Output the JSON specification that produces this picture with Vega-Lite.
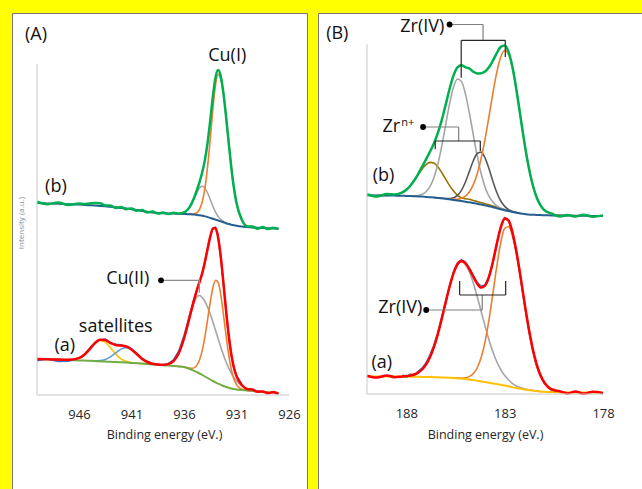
{
  "$schema": "https://vega.github.io/schema/vega-lite/v6.json",
  "background": "#FFFF00",
  "padding": {"left": 11, "top": 12, "right": 0, "bottom": 0},
  "spacing": 9,
  "config": {"font": "Open Sans"},
  "resolve": {"scale": {"color": "independent"}},
  "datasets": {
    "A": [
      {"x":950,"abg":36,"af":36,"ar":34.5,"bbg":192,"bf":193.2},
      {"x":949,"abg":35.7,"af":35.7,"ar":36.2,"bbg":191.6,"bf":190.8},
      {"x":948,"abg":35.4,"af":35.5,"ar":33.7,"aye":35.5,"bbg":191.2,"bf":192.4},
      {"x":947,"abg":35,"af":35.2,"ar":34,"aye":35.2,"bbg":190.8,"bf":190.1},
      {"x":946,"abg":34.6,"af":36.9,"ar":37.2,"aye":36.9,"bbg":190.4,"bf":191.5},
      {"x":945.5,"abg":34.4,"af":40.2,"ar":39.6,"aye":40.2,"bbg":190.1,"bf":191},
      {"x":945,"abg":34.2,"af":45.7,"ar":46.5,"aye":45.7,"alb":34.2,"bbg":189.8,"bf":191.6},
      {"x":944.5,"abg":34,"af":51.7,"ar":52.2,"aye":51.5,"alb":34.2,"bbg":189.5,"bf":192},
      {"x":944,"abg":33.7,"af":55.3,"ar":55,"aye":54.6,"alb":34.4,"bbg":189.1,"bf":191.8},
      {"x":943.5,"abg":33.5,"af":54.9,"ar":55.8,"aye":52.9,"alb":35.5,"bbg":188.7,"bf":189.6},
      {"x":943,"abg":33.2,"af":52.1,"ar":51.6,"aye":47.2,"alb":38.1,"bbg":188.2,"bf":189.4},
      {"x":942.5,"abg":33,"af":50,"ar":50.6,"aye":40.9,"alb":42.1,"bbg":187.7,"bf":186.9},
      {"x":942,"abg":32.7,"af":49.4,"ar":50.2,"aye":36.2,"alb":45.9,"bbg":187.1,"bf":188},
      {"x":941.5,"abg":32.4,"af":48.6,"ar":48.2,"aye":33.6,"alb":47.4,"bbg":186.4,"bf":185.8},
      {"x":941,"abg":32.1,"af":45.6,"ar":46.1,"aye":32.4,"alb":45.3,"bbg":185.7,"bf":186.6},
      {"x":940.5,"abg":31.8,"af":41,"ar":41.3,"aye":31.9,"alb":40.9,"bbg":184.9,"bf":184.2},
      {"x":940,"abg":31.4,"af":36.3,"ar":35.8,"aye":31.4,"alb":36.3,"bbg":184.1,"bf":185},
      {"x":939.5,"abg":31,"af":33,"ar":33.6,"aye":31,"alb":33,"bbg":183.3,"bf":182.6},
      {"x":939,"abg":30.6,"af":31.3,"ar":30.9,"alb":31.3,"bbg":182.6,"bf":183.5},
      {"x":938.5,"abg":30.2,"af":30.4,"ar":30.7,"agr":30.3,"alb":30.4,"bbg":182.1,"bf":181.4},
      {"x":938,"abg":29.8,"af":30.2,"ar":29.6,"agr":30.2,"alb":29.8,"bbg":181.8,"bf":182.6},
      {"x":937.5,"abg":29.4,"af":30.9,"ar":31.3,"agr":30.9,"bbg":181.6,"bf":180.9},
      {"x":937,"abg":29,"af":33.9,"ar":35.1,"agr":33.9,"aor":29,"bbg":181.4,"bf":182.3},
      {"x":936.5,"abg":28.6,"af":41.7,"ar":43.7,"agr":41.7,"aor":28.6,"bbg":181.2,"bf":181.5,"bgr":181.5},
      {"x":936,"abg":28,"af":56.5,"ar":59,"agr":56.4,"aor":28.1,"bbg":181,"bf":182.6,"bgr":182.6,"bor":181},
      {"x":935.75,"abg":27.2,"af":66,"ar":68.2,"agr":65.8,"aor":27.4,"bbg":180.9,"bf":184.4,"bgr":184.4,"bor":180.9},
      {"x":935.5,"abg":26.3,"af":76.4,"ar":78.2,"agr":75.8,"aor":26.9,"bbg":180.8,"bf":187.4,"bgr":187.4,"bor":180.9},
      {"x":935.25,"abg":25.2,"af":86.9,"ar":87.9,"agr":85.4,"aor":26.7,"bbg":180.6,"bf":192.1,"bgr":191.8,"bor":180.9},
      {"x":935,"abg":24,"af":96.7,"ar":97.2,"agr":93.3,"aor":27.4,"bbg":180.4,"bf":198.2,"bgr":197.3,"bor":181.3},
      {"x":934.75,"abg":22.8,"af":105.7,"ar":105.7,"agr":98.4,"aor":30.1,"bbg":180.1,"bf":205.5,"bgr":202.9,"bor":182.7},
      {"x":934.5,"abg":21.5,"af":113.7,"ar":113.4,"agr":99.5,"aor":35.7,"bbg":179.7,"bf":213.7,"bgr":207.2,"bor":186.2},
      {"x":934.25,"abg":20,"af":122.3,"ar":122.6,"agr":97.2,"aor":45.1,"bbg":179.2,"bf":223.2,"bgr":208.7,"bor":193.7},
      {"x":934,"abg":18.5,"af":133.5,"ar":133.5,"agr":93.3,"aor":58.7,"bbg":178.6,"bf":235.6,"bgr":206.8,"bor":207.4},
      {"x":933.75,"abg":17,"af":146.3,"ar":146.7,"agr":87.7,"aor":75.6,"bbg":177.9,"bf":252.7,"bgr":202,"bor":228.6},
      {"x":933.5,"abg":15.5,"af":158.4,"ar":158.4,"agr":80.9,"aor":93,"bbg":177.1,"bf":274.6,"bgr":195.5,"bor":256.2},
      {"x":933.25,"abg":14,"af":166.4,"ar":166.9,"agr":73.1,"aor":107.3,"bbg":176.3,"bf":298.4,"bgr":188.8,"bor":285.9},
      {"x":933,"abg":12.6,"af":166.9,"ar":167.7,"agr":64.8,"aor":114.7,"bbg":175.4,"bf":317.5,"bgr":183,"bor":309.9},
      {"x":932.75,"abg":11.3,"af":157.6,"ar":158.1,"agr":56.3,"aor":112.6,"bbg":174.5,"bf":324.9,"bgr":178.6,"bor":320.8},
      {"x":932.5,"abg":10.1,"af":138.4,"ar":138.4,"agr":48.1,"aor":100.4,"bbg":173.6,"bf":318.6,"bgr":175.6,"bor":316.6},
      {"x":932.25,"abg":9,"af":112.5,"ar":112.2,"agr":40.3,"aor":81.2,"bbg":172.7,"bf":302.3,"bgr":173.6,"bor":301.4},
      {"x":932,"abg":8,"af":85.1,"ar":84.6,"agr":33.2,"aor":59.9,"bbg":171.8,"bf":279,"bgr":172.1,"bor":278.7},
      {"x":931.75,"abg":7.2,"af":60.5,"ar":59.5,"agr":27.1,"aor":40.6,"bbg":171,"bf":253,"bgr":171.1,"bor":252.9},
      {"x":931.5,"abg":6.5,"af":41.1,"ar":39.9,"agr":21.8,"aor":25.8,"bbg":170.3,"bf":228.2,"bgr":170.3,"bor":228.2},
      {"x":931.25,"abg":6,"af":27.5,"ar":26.9,"agr":17.5,"aor":16,"bbg":169.7,"bf":207.5,"bor":207.5},
      {"x":931,"abg":5.6,"af":18.8,"ar":19.2,"agr":14.1,"aor":10.3,"bbg":169.2,"bf":191.9,"bor":191.9},
      {"x":930.5,"abg":5,"af":10,"ar":11,"agr":9.3,"aor":5.7,"bbg":168.4,"bf":175.6,"bor":174.8},
      {"x":930,"abg":4.5,"af":6.1,"agr":6.5,"aor":4.6,"bbg":167.9,"bf":168.6,"bor":169.2},
      {"x":929.5,"abg":4,"af":5.6,"agr":4.8,"aor":4,"bbg":167.5,"bf":168.5,"bor":167.7},
      {"x":929,"abg":3.6,"af":3.2,"agr":3.9,"bbg":167.2,"bf":166.2,"bor":167.2},
      {"x":928.5,"abg":3.1,"af":3.6,"agr":3.2,"bbg":167,"bf":167.9},
      {"x":928,"abg":2.7,"af":1.8,"agr":2.7,"bbg":166.8,"bf":165.9},
      {"x":927.5,"abg":2.3,"af":2.9,"bbg":166.6,"bf":167.3},
      {"x":927,"abg":1.9,"af":1.1,"bbg":166.5,"bf":165.8}
    ],
    "B": [
      {"x":190,"abg":17.5,"af":18.3,"bbg":198.7,"bf":199.8},
      {"x":189.5,"abg":17.5,"af":16.4,"bbg":198.6,"bf":197.5,"bol":198.6},
      {"x":189,"abg":17.5,"af":18.6,"bbg":198.5,"bf":199.9,"bol":198.6},
      {"x":188.6,"abg":17.5,"af":16.8,"bbg":198.4,"bf":199.6,"bol":199.2},
      {"x":188.2,"abg":17.4,"af":17.6,"ar":18.9,"agr":17.6,"bbg":198.2,"bf":201.6,"bol":201.6},
      {"x":188,"abg":17.4,"af":17.9,"ar":17,"agr":17.9,"bbg":198.1,"bf":204.2,"bol":204.2,"blg":198.1},
      {"x":187.8,"abg":17.3,"af":18.4,"ar":19.7,"agr":18.4,"bbg":198,"bf":208.3,"bol":208.2,"blg":198.1},
      {"x":187.6,"abg":17.3,"af":19.5,"ar":18.7,"agr":19.5,"bbg":197.8,"bf":213.6,"bol":213.2,"blg":198.2},
      {"x":187.4,"abg":17.2,"af":21.3,"ar":22.5,"agr":21.3,"bbg":197.6,"bf":220,"bol":219.1,"blg":198.5},
      {"x":187.2,"abg":17.1,"af":24.5,"ar":25.8,"agr":24.5,"bbg":197.4,"bf":227.3,"bol":225,"blg":199.7},
      {"x":187,"abg":17,"af":29.4,"ar":30.9,"agr":29.4,"bbg":197.1,"bf":234.6,"bol":229.4,"blg":202.3},
      {"x":186.8,"abg":16.9,"af":36.8,"ar":38.8,"agr":36.8,"bbg":196.8,"bf":242.2,"bol":231.6,"blg":207.4},
      {"x":186.6,"abg":16.8,"af":46.9,"ar":48.5,"agr":46.9,"bbg":196.5,"bf":250.6,"bol":230.9,"blg":216.2,"bdg":196.5},
      {"x":186.4,"abg":16.7,"af":59.9,"ar":60.8,"agr":59.9,"bbg":196.1,"bf":260.8,"bol":227.2,"blg":229.7,"bdg":196.1},
      {"x":186.2,"abg":16.6,"af":75.2,"ar":76.5,"agr":75.2,"bbg":195.7,"bf":273.8,"bol":221.5,"blg":247.9,"bdg":195.8},
      {"x":186,"abg":16.5,"af":91.6,"ar":92.2,"agr":91.6,"bbg":195.2,"bf":289.3,"bol":214.9,"blg":269.2,"bdg":195.5,"bor":195.3},
      {"x":185.8,"abg":16.3,"af":107.5,"ar":108.1,"agr":107.5,"bbg":194.7,"bf":305.2,"bol":208.4,"blg":290.4,"bdg":195.5,"bor":194.9},
      {"x":185.6,"abg":16.1,"af":120.9,"ar":121.8,"agr":120.8,"aor":16.2,"bbg":194.1,"bf":318.6,"bol":202.9,"blg":307,"bdg":196.3,"bor":194.7},
      {"x":185.4,"abg":15.8,"af":129.8,"ar":130.9,"agr":129.6,"aor":16,"bbg":193.5,"bf":326.7,"bol":198.7,"blg":315,"bdg":198.7,"bor":194.8},
      {"x":185.2,"abg":15.4,"af":132.9,"ar":134.2,"agr":132.4,"aor":15.9,"bbg":192.9,"bf":328.8,"bol":196.2,"blg":312.4,"bdg":203.7,"bor":195.7},
      {"x":185,"abg":15,"af":130.8,"ar":131.9,"agr":129.6,"aor":16.2,"bbg":192.3,"bf":326.8,"bol":195.2,"blg":300.4,"bdg":211.8,"bor":197.8},
      {"x":184.8,"abg":14.5,"af":125.2,"ar":125.6,"agr":122.3,"aor":17.4,"bbg":191.7,"bf":325.6,"bol":194.8,"blg":281.5,"bdg":222.4,"bor":202},
      {"x":184.6,"abg":13.9,"af":117.6,"ar":118.4,"agr":111.3,"aor":20.2,"bbg":191,"bf":322.3,"bol":193.6,"blg":259.6,"bdg":233,"bor":209.1},
      {"x":184.4,"abg":13.3,"af":110.4,"ar":111.5,"agr":97.7,"aor":26,"bbg":190.3,"bf":320.6,"bol":192.5,"blg":238.5,"bdg":240.5,"bor":220},
      {"x":184.2,"abg":12.6,"af":106.4,"ar":107.6,"agr":82.8,"aor":36.2,"bbg":189.5,"bf":320.8,"bol":191.4,"blg":220.7,"bdg":241.9,"bor":235.3},
      {"x":184,"abg":12,"af":108.3,"ar":109,"agr":68.1,"aor":52.2,"bbg":188.6,"bf":322.5,"bol":190.3,"blg":207.1,"bdg":236.2,"bor":254.7},
      {"x":183.8,"abg":11.3,"af":117.1,"ar":117.2,"agr":54.3,"aor":74.1,"bbg":187.7,"bf":326.7,"bol":189.2,"blg":197.8,"bdg":225.4,"bor":277.4},
      {"x":183.6,"abg":10.6,"af":132.2,"ar":131.5,"agr":42.3,"aor":100.5,"bbg":186.8,"bf":333.3,"bol":188.1,"blg":191.9,"bdg":212.8,"bor":300.9},
      {"x":183.4,"abg":9.9,"af":150.4,"ar":150,"agr":32.3,"aor":128,"bbg":185.8,"bf":340.9,"bol":186.9,"blg":188.1,"bdg":201.5,"bor":321.8},
      {"x":183.2,"abg":9.2,"af":166.6,"ar":166.9,"agr":24.4,"aor":151.4,"bbg":184.8,"bf":347.1,"bol":185.7,"blg":185.8,"bdg":193,"bor":337},
      {"x":183,"abg":8.5,"af":175.5,"ar":176.3,"agr":18.4,"aor":165.6,"bbg":183.8,"bf":348.4,"bol":184.5,"blg":184.2,"bdg":187.6,"bor":343.5},
      {"x":182.8,"abg":7.8,"af":173.4,"ar":174,"agr":14,"aor":167.2,"bbg":182.9,"bf":341.8,"bol":183.4,"blg":183,"bdg":184.4,"bor":339.7},
      {"x":182.6,"abg":6.6,"af":161.2,"ar":161,"agr":10.3,"aor":157.5,"bbg":182.1,"bf":326.4,"bol":182.4,"blg":182.1,"bdg":182.6,"bor":325.6},
      {"x":182.4,"abg":5.9,"af":142,"ar":141.3,"agr":8,"aor":139.9,"bbg":181.3,"bf":303.8,"bol":181.3,"bdg":181.5,"bor":303.6},
      {"x":182.2,"abg":5.2,"af":118.1,"ar":117,"agr":6.4,"aor":116.9,"bbg":180.6,"bf":277.6,"bdg":180.6,"bor":277.6},
      {"x":182,"abg":4.6,"af":92.4,"ar":91,"agr":5.2,"aor":91.8,"bbg":180,"bf":251.7,"bor":251.7},
      {"x":181.8,"abg":4,"af":68.2,"ar":66.6,"agr":4.3,"aor":67.9,"bbg":179.6,"bf":229,"bor":229},
      {"x":181.6,"abg":3.5,"af":47.6,"ar":45.9,"agr":3.7,"aor":47.4,"bbg":179.3,"bf":211,"bor":211},
      {"x":181.4,"abg":3,"af":31.4,"ar":29.8,"agr":3.1,"aor":31.3,"bbg":179.1,"bf":198,"bor":198},
      {"x":181.2,"abg":2.6,"af":19.7,"ar":18.6,"agr":2.6,"aor":19.7,"bbg":178.9,"bf":189.4,"bor":189.4},
      {"x":181,"abg":2.3,"af":12,"ar":11.2,"aor":12,"bbg":178.8,"bf":184.2,"bor":184.2},
      {"x":180.6,"abg":1.9,"af":4.5,"ar":3.6,"aor":4.5,"bbg":178.6,"bf":180.3,"bor":179.8},
      {"x":180.2,"abg":1.7,"af":2.8,"aor":2.2,"bbg":178.5,"bf":177.6,"bor":178.7},
      {"x":179.8,"abg":1.6,"af":0.6,"aor":1.7,"bbg":178.4,"bf":179,"bor":178.4},
      {"x":179.4,"abg":1.5,"af":2.6,"bbg":178.3,"bf":177.4},
      {"x":179,"abg":1.5,"af":0.4,"bbg":178.2,"bf":179.3},
      {"x":178.5,"abg":1.4,"af":2.2,"bbg":178.1,"bf":177.2},
      {"x":178,"abg":1.4,"af":0.8,"bbg":178,"bf":178.6}
    ],
    "annA": [
      {"k":"ax","x":950,"x2":926,"value":0,"value2":0},
      {"k":"ax","x":950,"x2":950,"value":0,"value2":331},
      {"k":"c","x":938.19,"x2":934.54,"value":114.7,"value2":114.7},
      {"k":"c","x":934.54,"x2":934.54,"value":116,"value2":102.3},
      {"k":"d","x":938.19,"x2":938.19,"value":114.7,"value2":114.7}
    ],
    "annB": [
      {"k":"ax","x":190,"x2":178,"value":0,"value2":0},
      {"k":"ax","x":190,"x2":190,"value":0,"value2":349.7},
      {"k":"c","x":185.8,"x2":184.1,"value":369.5,"value2":369.5},
      {"k":"c","x":184.1,"x2":184.1,"value":369.5,"value2":353.7},
      {"k":"c","x":187.15,"x2":185.34,"value":267,"value2":267},
      {"k":"c","x":185.34,"x2":185.34,"value":267,"value2":253},
      {"k":"c","x":186.99,"x2":184.14,"value":84,"value2":84},
      {"k":"c","x":184.14,"x2":184.14,"value":84,"value2":99},
      {"k":"b","x":185.21,"x2":182.97,"value":353.7,"value2":353.7},
      {"k":"b","x":185.21,"x2":185.21,"value":353.7,"value2":316.3},
      {"k":"b","x":182.97,"x2":182.97,"value":353.7,"value2":337},
      {"k":"b","x":186.53,"x2":184.24,"value":253,"value2":253},
      {"k":"b","x":186.53,"x2":186.53,"value":253,"value2":244.7},
      {"k":"b","x":184.24,"x2":184.24,"value":253,"value2":243},
      {"k":"b","x":185.29,"x2":182.95,"value":99,"value2":99},
      {"k":"b","x":185.29,"x2":185.29,"value":99,"value2":113},
      {"k":"b","x":182.95,"x2":182.95,"value":99,"value2":113},
      {"k":"d","x":185.8,"x2":185.8,"value":369.5,"value2":369.5},
      {"k":"d","x":187.15,"x2":187.15,"value":267,"value2":267},
      {"k":"d","x":186.99,"x2":186.99,"value":84,"value2":84}
    ],
    "txtA": [
      {"k":"big","x":950.1,"value":360,"t":"(A)"},
      {"k":"big","x":931.88,"value":339,"t":"Cu(I)"},
      {"k":"big","x":948.2,"value":208,"t":"(b)"},
      {"k":"big","x":941.36,"value":115.7,"t":"Cu(II)"},
      {"k":"big","x":942.5,"value":68,"t":"satellites"},
      {"k":"big","x":947.35,"value":49,"t":"(a)"},
      {"k":"yt","x":951.43,"value":172,"t":"Intensity (a.u.)"}
    ],
    "txtB": [
      {"k":"big","x":191.51,"value":359.7,"t":"(B)"},
      {"k":"big","x":187.19,"value":367.2,"t":"Zr(IV)"},
      {"k":"big","x":188.76,"value":267,"t":"Zr"},
      {"k":"sup","x":187.93,"value":271,"t":"n+"},
      {"k":"big","x":189.16,"value":218,"t":"(b)"},
      {"k":"big","x":188.31,"value":86.3,"t":"Zr(IV)"},
      {"k":"big","x":189.25,"value":31.3,"t":"(a)"}
    ]
  },
  "hconcat": [
    {
      "width": 295,
      "height": 480,
      "view": {"fill": "white", "stroke": "#767676", "strokeWidth": 1},
      "data": {"name": "A"},
      "encoding": {
        "x": {
          "field": "x", "type": "quantitative",
          "scale": {"domain": [924.286, 952.381], "reverse": true, "nice": false, "zero": false},
          "axis": {
            "values": [946, 941, 936, 931, 926], "format": "d",
            "domain": false, "ticks": false, "grid": false, "offset": -98,
            "labelPadding": 13, "labelFontSize": 13, "labelColor": "#262626", "labelFlush": false,
            "title": "Binding energy (eV.)", "titleFontSize": 12.5, "titleFontWeight": "normal",
            "titleColor": "#262626", "titleX": 152, "titleY": 33, "titleAlign": "center", "titleBaseline": "top"
          }
        },
        "y": {
          "field": "value", "type": "quantitative",
          "scale": {"domain": [-98, 382], "nice": false, "zero": false},
          "axis": null
        }
      },
      "layer": [
        {
          "transform": [{"fold": ["aor", "agr", "aye", "alb", "bor", "bgr"], "as": ["key", "value"]}, {"filter": "isValid(datum.value)"}],
          "mark": {"type": "line", "strokeWidth": 1.6, "interpolate": "monotone"},
          "encoding": {"color": {"field": "key", "type": "nominal", "legend": null,
            "scale": {"domain": ["aor", "agr", "aye", "alb", "bor", "bgr", "abg", "bbg", "ar", "af", "bf"],
                      "range": ["#ED7D31", "#A5A5A5", "#FFC000", "#5B9BD5", "#ED7D31", "#A5A5A5", "#70AD47", "#255E91", "#4472C4", "#FF0000", "#00B050"]}}}
        },
        {
          "transform": [{"fold": ["abg", "bbg"], "as": ["key", "value"]}, {"filter": "isValid(datum.value)"}],
          "mark": {"type": "line", "strokeWidth": 2, "interpolate": "monotone"},
          "encoding": {"color": {"field": "key", "type": "nominal", "legend": null,
            "scale": {"domain": ["aor", "agr", "aye", "alb", "bor", "bgr", "abg", "bbg", "ar", "af", "bf"],
                      "range": ["#ED7D31", "#A5A5A5", "#FFC000", "#5B9BD5", "#ED7D31", "#A5A5A5", "#70AD47", "#255E91", "#4472C4", "#FF0000", "#00B050"]}}}
        },
        {
          "transform": [{"fold": ["ar"], "as": ["key", "value"]}, {"filter": "isValid(datum.value)"}],
          "mark": {"type": "line", "strokeWidth": 1.8, "interpolate": "linear"},
          "encoding": {"color": {"field": "key", "type": "nominal", "legend": null,
            "scale": {"domain": ["aor", "agr", "aye", "alb", "bor", "bgr", "abg", "bbg", "ar", "af", "bf"],
                      "range": ["#ED7D31", "#A5A5A5", "#FFC000", "#5B9BD5", "#ED7D31", "#A5A5A5", "#70AD47", "#255E91", "#4472C4", "#FF0000", "#00B050"]}}}
        },
        {
          "transform": [{"fold": ["af", "bf"], "as": ["key", "value"]}, {"filter": "isValid(datum.value)"}],
          "mark": {"type": "line", "strokeWidth": 2.5, "interpolate": "monotone"},
          "encoding": {"color": {"field": "key", "type": "nominal", "legend": null,
            "scale": {"domain": ["aor", "agr", "aye", "alb", "bor", "bgr", "abg", "bbg", "ar", "af", "bf"],
                      "range": ["#ED7D31", "#A5A5A5", "#FFC000", "#5B9BD5", "#ED7D31", "#A5A5A5", "#70AD47", "#255E91", "#4472C4", "#FF0000", "#00B050"]}}}
        },
        {
          "data": {"name": "annA"},
          "transform": [{"filter": "datum.k == 'ax'"}],
          "mark": {"type": "rule", "color": "#c8c8c8", "strokeWidth": 1},
          "encoding": {"x2": {"field": "x2"}, "y2": {"field": "value2"}}
        },
        {
          "data": {"name": "annA"},
          "transform": [{"filter": "datum.k == 'c'"}],
          "mark": {"type": "rule", "color": "#8c8c8c", "strokeWidth": 1.2},
          "encoding": {"x2": {"field": "x2"}, "y2": {"field": "value2"}}
        },
        {
          "data": {"name": "annA"},
          "transform": [{"filter": "datum.k == 'd'"}],
          "mark": {"type": "point", "filled": true, "color": "#000000", "opacity": 1, "size": 34}
        },
        {
          "data": {"name": "txtA"},
          "transform": [{"filter": "datum.k == 'big'"}],
          "mark": {"type": "text", "fontSize": 18, "color": "#111111", "align": "center", "baseline": "middle"},
          "encoding": {"text": {"field": "t"}}
        },
        {
          "data": {"name": "txtA"},
          "transform": [{"filter": "datum.k == 'yt'"}],
          "mark": {"type": "text", "fontSize": 8, "color": "#8c8c8c", "align": "center", "baseline": "middle", "angle": 270},
          "encoding": {"text": {"field": "t"}}
        }
      ]
    },
    {
      "width": 330,
      "height": 480,
      "view": {"fill": "white", "stroke": "#767676", "strokeWidth": 1},
      "data": {"name": "B"},
      "encoding": {
        "x": {
          "field": "x", "type": "quantitative",
          "scale": {"domain": [175.714, 192.491], "reverse": true, "nice": false, "zero": false},
          "axis": {
            "values": [188, 183, 178], "format": "d",
            "domain": false, "ticks": false, "grid": false, "offset": -99,
            "labelPadding": 13, "labelFontSize": 13, "labelColor": "#262626", "labelFlush": false,
            "title": "Binding energy (eV.)", "titleFontSize": 12.5, "titleFontWeight": "normal",
            "titleColor": "#262626", "titleX": 167, "titleY": 34, "titleAlign": "center", "titleBaseline": "top"
          }
        },
        "y": {
          "field": "value", "type": "quantitative",
          "scale": {"domain": [-99, 381], "nice": false, "zero": false},
          "axis": null
        }
      },
      "layer": [
        {
          "transform": [{"fold": ["aor", "agr", "bor", "blg", "bdg", "bol"], "as": ["key", "value"]}, {"filter": "isValid(datum.value)"}],
          "mark": {"type": "line", "strokeWidth": 1.6, "interpolate": "monotone"},
          "encoding": {"color": {"field": "key", "type": "nominal", "legend": null,
            "scale": {"domain": ["aor", "agr", "bor", "blg", "bdg", "bol", "abg", "bbg", "ar", "af", "bf"],
                      "range": ["#ED7D31", "#A5A5A5", "#ED7D31", "#A5A5A5", "#595959", "#997300", "#FFC000", "#255E91", "#4472C4", "#FF0000", "#00B050"]}}}
        },
        {
          "transform": [{"fold": ["abg", "bbg"], "as": ["key", "value"]}, {"filter": "isValid(datum.value)"}],
          "mark": {"type": "line", "strokeWidth": 2, "interpolate": "monotone"},
          "encoding": {"color": {"field": "key", "type": "nominal", "legend": null,
            "scale": {"domain": ["aor", "agr", "bor", "blg", "bdg", "bol", "abg", "bbg", "ar", "af", "bf"],
                      "range": ["#ED7D31", "#A5A5A5", "#ED7D31", "#A5A5A5", "#595959", "#997300", "#FFC000", "#255E91", "#4472C4", "#FF0000", "#00B050"]}}}
        },
        {
          "transform": [{"fold": ["ar"], "as": ["key", "value"]}, {"filter": "isValid(datum.value)"}],
          "mark": {"type": "line", "strokeWidth": 1.8, "interpolate": "linear"},
          "encoding": {"color": {"field": "key", "type": "nominal", "legend": null,
            "scale": {"domain": ["aor", "agr", "bor", "blg", "bdg", "bol", "abg", "bbg", "ar", "af", "bf"],
                      "range": ["#ED7D31", "#A5A5A5", "#ED7D31", "#A5A5A5", "#595959", "#997300", "#FFC000", "#255E91", "#4472C4", "#FF0000", "#00B050"]}}}
        },
        {
          "transform": [{"fold": ["af", "bf"], "as": ["key", "value"]}, {"filter": "isValid(datum.value)"}],
          "mark": {"type": "line", "strokeWidth": 2.5, "interpolate": "monotone"},
          "encoding": {"color": {"field": "key", "type": "nominal", "legend": null,
            "scale": {"domain": ["aor", "agr", "bor", "blg", "bdg", "bol", "abg", "bbg", "ar", "af", "bf"],
                      "range": ["#ED7D31", "#A5A5A5", "#ED7D31", "#A5A5A5", "#595959", "#997300", "#FFC000", "#255E91", "#4472C4", "#FF0000", "#00B050"]}}}
        },
        {
          "data": {"name": "annB"},
          "transform": [{"filter": "datum.k == 'ax'"}],
          "mark": {"type": "rule", "color": "#c8c8c8", "strokeWidth": 1},
          "encoding": {"x2": {"field": "x2"}, "y2": {"field": "value2"}}
        },
        {
          "data": {"name": "annB"},
          "transform": [{"filter": "datum.k == 'c'"}],
          "mark": {"type": "rule", "color": "#7f7f7f", "strokeWidth": 1.2},
          "encoding": {"x2": {"field": "x2"}, "y2": {"field": "value2"}}
        },
        {
          "data": {"name": "annB"},
          "transform": [{"filter": "datum.k == 'b'"}],
          "mark": {"type": "rule", "color": "#262626", "strokeWidth": 1.2},
          "encoding": {"x2": {"field": "x2"}, "y2": {"field": "value2"}}
        },
        {
          "data": {"name": "annB"},
          "transform": [{"filter": "datum.k == 'd'"}],
          "mark": {"type": "point", "filled": true, "color": "#000000", "opacity": 1, "size": 34}
        },
        {
          "data": {"name": "txtB"},
          "transform": [{"filter": "datum.k == 'big'"}],
          "mark": {"type": "text", "fontSize": 18, "color": "#111111", "align": "center", "baseline": "middle"},
          "encoding": {"text": {"field": "t"}}
        },
        {
          "data": {"name": "txtB"},
          "transform": [{"filter": "datum.k == 'sup'"}],
          "mark": {"type": "text", "fontSize": 11, "color": "#111111", "align": "center", "baseline": "middle"},
          "encoding": {"text": {"field": "t"}}
        }
      ]
    }
  ]
}
